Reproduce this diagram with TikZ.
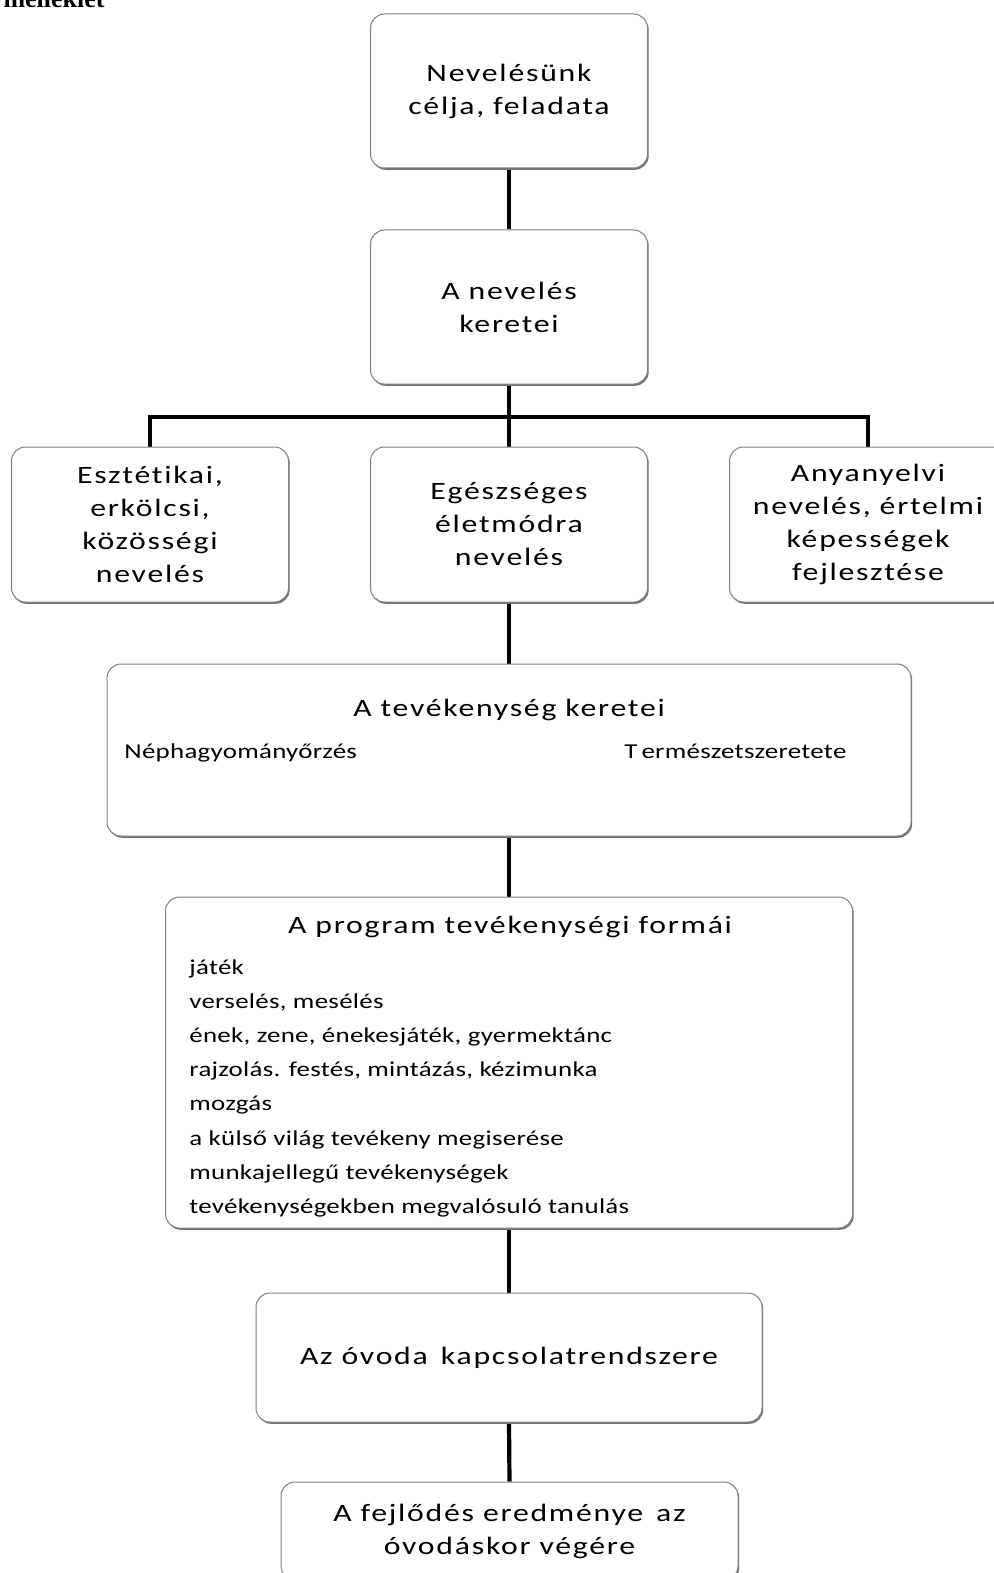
\documentclass[tikz,border=0pt]{standalone}
\usepackage{fontspec}
\setmainfont{Carlito}
\newfontfamily\bigf[FakeStretch=1.27,LetterSpace=7,Ligatures=NoCommon]{Carlito}
\newfontfamily\smallf[FakeStretch=1.27,LetterSpace=1.3,Ligatures=NoCommon]{Carlito}
\newfontfamily\hdrf[FakeStretch=1.0]{Liberation Serif}
\usetikzlibrary{shadows,backgrounds}
\begin{document}
\begin{tikzpicture}[x=0.5pt,y=-0.5pt,
  wh/.style 2 args={minimum width=#1*0.5pt, minimum height=#2*0.5pt},
  box/.style={draw=black!50, line width=0.5pt, rounded corners=7pt, fill=white,
    inner sep=0pt, align=center,
    drop shadow={shadow xshift=0.6pt, shadow yshift=-0.9pt, fill=black!55, opacity=1},
    font=\bigf\fontsize{12.5pt}{16.5pt}\selectfont},
  conn/.style={line width=2.1pt, black},
  lbl/.style={inner sep=0pt, font=\smallf\fontsize{10.6pt}{13pt}\selectfont},
  ttl/.style={inner sep=0pt, font=\bigf\fontsize{12.5pt}{16.5pt}\selectfont}]

\useasboundingbox (0,0) rectangle (994,1573);

\node[anchor=base east, inner sep=0pt, font=\hdrf\bfseries\fontsize{13pt}{15pt}\selectfont] (hdr) at (105,7.5) {melléklet};

\node[box, wh={277}{154}] (top) at (509,91) {Nevelésünk\\célja, feladata};
\node[box, wh={277}{154}] (frame) at (509,307) {A nevelés\\keretei};
\node[box, wh={277}{155}] (left) at (150,524.5) {Esztétikai,\\erkölcsi,\\közösségi\\nevelés};
\node[box, wh={277}{155}] (mid) at (509,524.5) {Egészséges\\életmódra\\nevelés};
\node[box, wh={277}{155}] (right) at (868,524.5) {Anyanyelvi\\nevelés, értelmi\\képességek\\fejlesztése};
\node[box, wh={804}{172}] (tev) at (509,750) {};
\node[box, wh={687}{331}] (prog) at (509,1062.5) {};
\node[box, wh={506}{129}] (ovoda) at (509,1357.5) {Az óvoda\, kapcsolatrendszere};
\node[box, wh={457}{98}] (last) at (509.5,1531) {A fejlődés eredménye\, az\\óvodáskor végére};

\node[ttl, anchor=base] (tevt) at (509,716) {A tevékenység keretei};
\node[lbl, anchor=base west] (nep) at (124,758) {Néphagyományőrzés};
\node[lbl, anchor=base west] (term) at (624,758) {T\kern2pt ermészetszeretete};

\node[ttl, anchor=base] (progt) at (510,933) {A program tevékenységi formái};
\node[lbl, anchor=base west] (i1) at (189,974) {játék};
\node[lbl, anchor=base west] (i2) at (189,1008.2) {verselés, mesélés};
\node[lbl, anchor=base west] (i3) at (189,1042.4) {ének, zene, énekesjáték, gyermektánc};
\node[lbl, anchor=base west] (i4) at (189,1076.6) {rajzolás. festés, mintázás, kézimunka};
\node[lbl, anchor=base west] (i5) at (189,1110.8) {mozgás};
\node[lbl, anchor=base west] (i6) at (189,1145) {a külső világ tevékeny megiserése};
\node[lbl, anchor=base west] (i7) at (189,1179.2) {munkajellegű tevékenységek};
\node[lbl, anchor=base west] (i8) at (189,1213.4) {tevékenységekben megvalósuló tanulás};

\begin{scope}[on background layer]
\coordinate (bus) at (509,417);
\draw[conn] (top.south) -- (frame.north);
\draw[conn] (frame.south) -- (mid.north);
\draw[conn] (left.north) -- (left.north |- bus) -- (right.north |- bus) -- (right.north);
\draw[conn] (mid.south) -- (tev.north);
\draw[conn] (tev.south) -- (prog.north);
\draw[conn] (prog.south) -- (ovoda.north);
\draw[conn] (ovoda.south) -- (last.north);
\end{scope}
\end{tikzpicture}
\end{document}
